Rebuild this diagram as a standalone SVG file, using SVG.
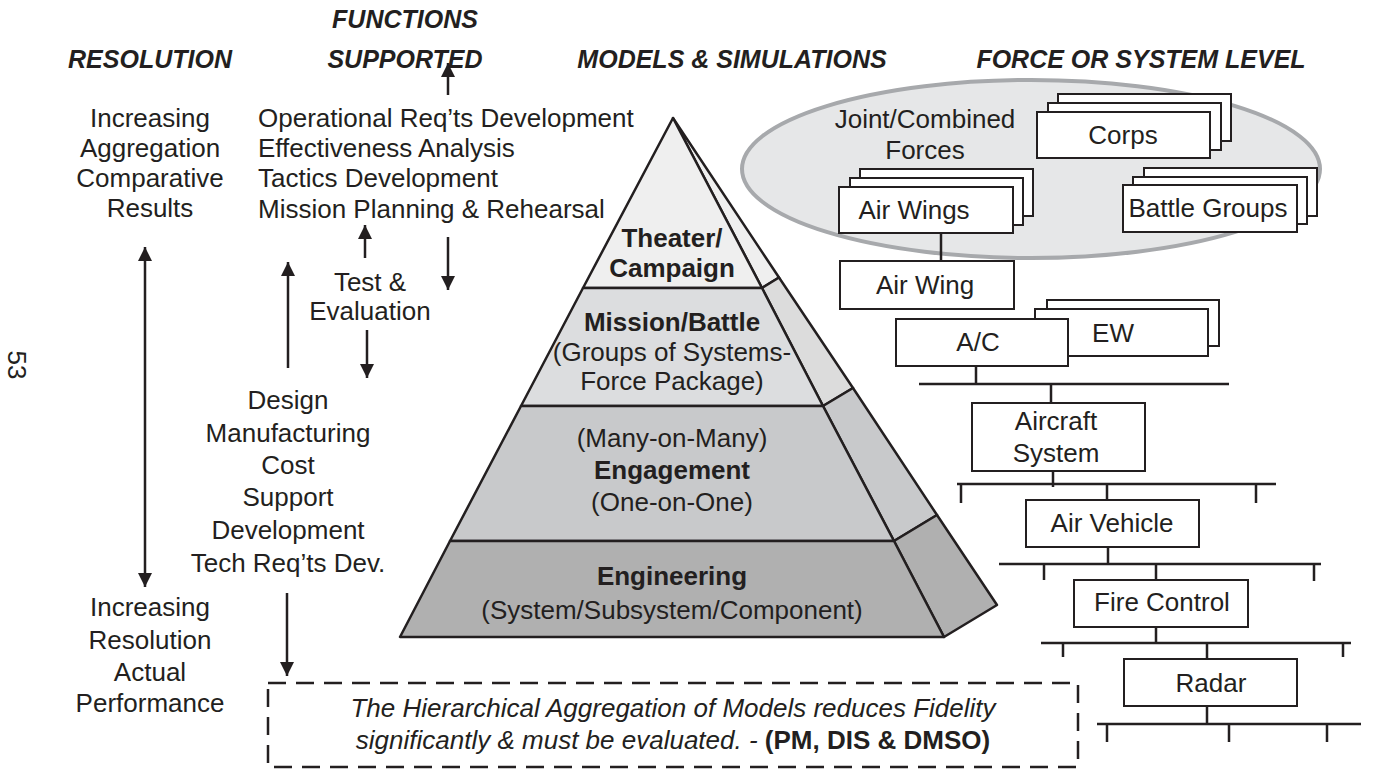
<svg xmlns="http://www.w3.org/2000/svg" width="1384" height="777" viewBox="0 0 1384 777">
<defs>
<style>
.t{font-family:"Liberation Sans",Arial,sans-serif;font-size:26px;fill:#231f20;text-anchor:middle}
.l{text-anchor:start}
.b{font-weight:bold}
.h{font-family:"Liberation Sans",Arial,sans-serif;font-size:25px;font-weight:bold;font-style:italic;fill:#231f20;text-anchor:middle}
.i{font-style:italic}
.ln{stroke:#231f20;stroke-width:2.5;fill:none}
.bx{fill:#fff;stroke:#231f20;stroke-width:2}
.ar{stroke:#231f20;stroke-width:2.5;fill:none;marker-end:url(#ah)}
.pf{stroke:#231f20;stroke-width:2.5;stroke-linejoin:round}
</style>
<marker id="ah" viewBox="0 0 10 10" refX="10" refY="5" markerUnits="userSpaceOnUse" markerWidth="26" markerHeight="14" orient="auto-start-reverse">
<path d="M0,0 L10,5 L0,10 Z" fill="#231f20"/>
</marker>
</defs>
<rect width="1384" height="777" fill="#fff"/>

<g id="headers">
<text class="h" x="150" y="68">RESOLUTION</text>
<text class="h" x="405" y="28">FUNCTIONS</text>
<text class="h" x="405" y="68">SUPPORTED</text>
<text class="h" x="732" y="68">MODELS &amp; SIMULATIONS</text>
<text class="h" x="1141" y="68">FORCE OR SYSTEM LEVEL</text>
</g>

<text class="t" transform="translate(8,365) rotate(90)">53</text>

<g id="resolution">
<text class="t" x="150" y="127">Increasing</text>
<text class="t" x="150" y="157">Aggregation</text>
<text class="t" x="150" y="187">Comparative</text>
<text class="t" x="150" y="217">Results</text>
<text class="t" x="150" y="616">Increasing</text>
<text class="t" x="150" y="649">Resolution</text>
<text class="t" x="150" y="681">Actual</text>
<text class="t" x="150" y="712">Performance</text>
</g>

<g id="functions">
<text class="t l" x="258" y="127">Operational Req’ts Development</text>
<text class="t l" x="258" y="157">Effectiveness Analysis</text>
<text class="t l" x="258" y="187">Tactics Development</text>
<text class="t l" x="258" y="218">Mission Planning &amp; Rehearsal</text>
<text class="t" x="370" y="291">Test &amp;</text>
<text class="t" x="370" y="320">Evaluation</text>
<text class="t" x="288" y="409">Design</text>
<text class="t" x="288" y="442">Manufacturing</text>
<text class="t" x="288" y="474">Cost</text>
<text class="t" x="288" y="506">Support</text>
<text class="t" x="288" y="539">Development</text>
<text class="t" x="288" y="572">Tech Req’ts Dev.</text>
</g>

<g id="arrows">
<line class="ar" x1="145" y1="247" x2="145" y2="587" style="marker-start:url(#ah)"/>
<line class="ar" x1="448" y1="95" x2="448" y2="63"/>
<line class="ar" x1="365" y1="258" x2="365" y2="225"/>
<line class="ar" x1="448" y1="237" x2="448" y2="290"/>
<line class="ar" x1="367" y1="330" x2="367" y2="378"/>
<line class="ar" x1="288" y1="368" x2="288" y2="262"/>
<line class="ar" x1="287" y1="593" x2="287" y2="676"/>
</g>

<g id="pyramid">
<polygon class="pf" fill="#efefef" points="673,118 762,288 779,277.5"/>
<polygon class="pf" fill="#dcdcdc" points="762,288 823,406 853,388 779,277.5"/>
<polygon class="pf" fill="#c8c9cb" points="823,406 894,541 937,515 853,388"/>
<polygon class="pf" fill="#b0b0b0" points="894,541 944,637 997,605 937,515"/>
<polygon class="pf" fill="#efefef" points="673,118 583,288 762,288"/>
<polygon class="pf" fill="#dcdddf" points="583,288 521,406 823,406 762,288"/>
<polygon class="pf" fill="#c8c9cb" points="521,406 450,541 894,541 823,406"/>
<polygon class="pf" fill="#b0b0b0" points="450,541 400,637 944,637 894,541"/>
<text class="t b" x="672" y="247">Theater/</text>
<text class="t b" x="672" y="277">Campaign</text>
<text class="t b" x="672" y="331">Mission/Battle</text>
<text class="t" x="672" y="361">(Groups of Systems-</text>
<text class="t" x="672" y="390">Force Package)</text>
<text class="t" x="672" y="447">(Many-on-Many)</text>
<text class="t b" x="672" y="479">Engagement</text>
<text class="t" x="672" y="511">(One-on-One)</text>
<text class="t b" x="672" y="585">Engineering</text>
<text class="t" x="672" y="619">(System/Subsystem/Component)</text>
</g>

<g id="note">
<rect x="268" y="683" width="810" height="84" fill="none" stroke="#231f20" stroke-width="2.5" stroke-dasharray="18,10"/>
<text class="t i" x="673" y="717">The Hierarchical Aggregation of Models reduces Fidelity</text>
<text class="t" x="673" y="749"><tspan class="i">significantly &amp; must be evaluated. - </tspan><tspan class="b">(PM, DIS &amp; DMSO)</tspan></text>
</g>

<g id="joint-forces">
<ellipse cx="1031" cy="169" rx="289" ry="89" fill="#e6e7e8" stroke="#a7a9ac" stroke-width="4"/>
<text class="t" x="925" y="128">Joint/Combined</text>
<text class="t" x="925" y="159">Forces</text>
</g>

<g id="corps">
<rect class="bx" x="1058" y="94" width="173" height="47"/>
<rect class="bx" x="1048" y="103" width="173" height="47"/>
<rect class="bx" x="1037" y="112" width="173" height="46"/>
<text class="t" x="1123" y="144">Corps</text>
</g>

<g id="air-wings">
<rect class="bx" x="860" y="169" width="173" height="47"/>
<rect class="bx" x="850" y="178" width="173" height="47"/>
<rect class="bx" x="839" y="187" width="174" height="46"/>
<text class="t" x="914" y="219">Air Wings</text>
</g>

<g id="battle-groups">
<rect class="bx" x="1144" y="168" width="173" height="48"/>
<rect class="bx" x="1133" y="177" width="174" height="47"/>
<rect class="bx" x="1123" y="185" width="174" height="47"/>
<text class="t" x="1208" y="217">Battle Groups</text>
</g>

<g id="air-wing">
<rect class="bx" x="840" y="261" width="174" height="48"/>
<text class="t" x="925" y="294">Air Wing</text>
</g>

<g id="ew">
<rect class="bx" x="1047" y="300" width="172" height="46"/>
<rect class="bx" x="1035" y="309" width="173" height="47"/>
<text class="t" x="1113" y="342">EW</text>
</g>

<g id="ac">
<rect class="bx" x="896" y="319" width="172" height="47"/>
<text class="t" x="978" y="351">A/C</text>
</g>

<g id="aircraft-system">
<rect class="bx" x="972" y="403" width="173" height="68"/>
<text class="t" x="1056" y="430">Aircraft</text>
<text class="t" x="1056" y="462">System</text>
</g>

<g id="air-vehicle">
<rect class="bx" x="1026" y="500" width="173" height="47"/>
<text class="t" x="1112" y="532">Air Vehicle</text>
</g>

<g id="fire-control">
<rect class="bx" x="1074" y="580" width="174" height="47"/>
<text class="t" x="1162" y="611">Fire Control</text>
</g>

<g id="radar">
<rect class="bx" x="1124" y="659" width="173" height="47"/>
<text class="t" x="1211" y="692">Radar</text>
</g>

<g id="connectors" class="ln">
<path d="M941,233 V261"/>
<path d="M976,366 V384 M919,384 H1229 M1051,384 V403"/>
<path d="M1053,471 V487 M957,484 H1276 M961,484 V503 M1256,484 V503 M1107,484 V500"/>
<path d="M1108,547 V564 M999,564 H1321 M1044,564 V580 M1314,564 V581 M1156,564 V580"/>
<path d="M1156,627 V643 M1041,643 H1351 M1063,643 V657 M1343,643 V657 M1207,643 V659"/>
<path d="M1207,706 V724 M1097,724 H1361 M1107,724 V742 M1229,724 V742 M1327,724 V742"/>
</g>
</svg>
